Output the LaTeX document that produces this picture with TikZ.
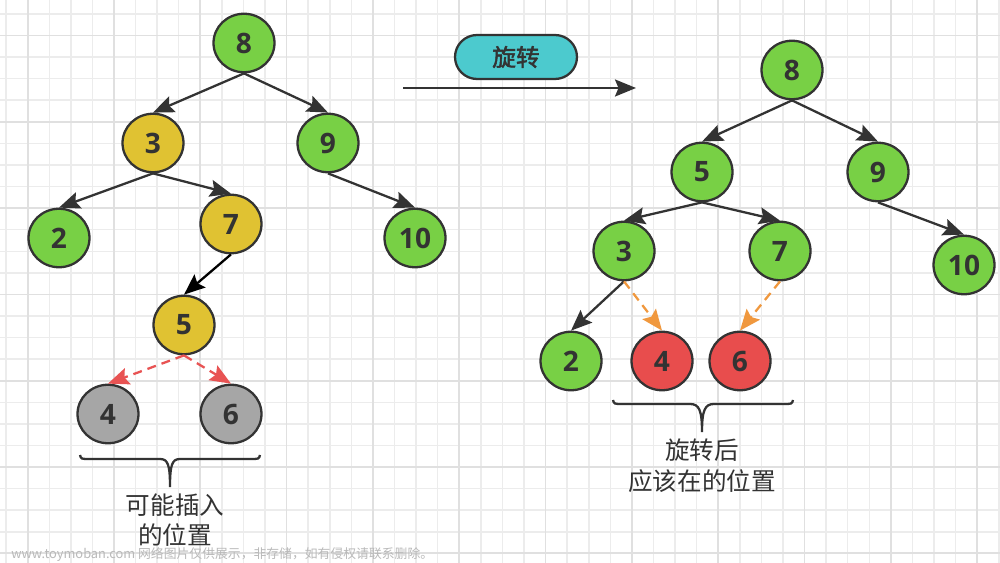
\documentclass[tikz,border=0pt]{standalone}
\usepackage{fontspec}
\setmainfont{Open Sans}
\newfontfamily\cjk[AutoFakeBold=2]{Noto Sans CJK SC}
\usetikzlibrary{arrows.meta,shapes.geometric}

\definecolor{nodegreen}{HTML}{78D045}
\definecolor{nodeyellow}{HTML}{E0C232}
\definecolor{nodegray}{HTML}{A6A6A6}
\definecolor{nodered}{HTML}{E84D4D}
\definecolor{tagcyan}{HTML}{4CCACE}
\definecolor{strokegray}{HTML}{333333}
\definecolor{dashred}{HTML}{E85353}
\definecolor{dashorange}{HTML}{F0983E}
\definecolor{gridminor}{HTML}{ECECEC}
\definecolor{gridmajor}{HTML}{E0E0E0}

\begin{document}
\begin{tikzpicture}[x=0.02cm, y=-0.02cm,
  tnode/.style={ellipse, draw=strokegray, line width=1.3pt, minimum width=1.22cm,
    minimum height=1.17cm, inner sep=0pt, text=strokegray,
    font=\fontsize{16}{18}\selectfont\bfseries},
  keep/.style={tnode, fill=nodegreen},
  moved/.style={tnode, fill=nodeyellow},
  slot/.style={tnode, fill=nodegray},
  newslot/.style={tnode, fill=nodered},
  link/.style={draw=strokegray, line width=1.3pt, -{Stealth[length=0.42cm, width=0.34cm, inset=0.07cm]}},
  guess/.style={link, draw=dashred, dash pattern=on 0.18cm off 0.12cm},
  settle/.style={link, draw=dashorange, dash pattern=on 0.18cm off 0.12cm},
  note/.style={font=\cjk\fontsize{14}{17.5}\selectfont, text=strokegray, align=center}
]
  \useasboundingbox (0,0) rectangle (1000,563);
  \fill[white] (0,0) rectangle (1000,563);

  % grid
  \foreach \gx in {6.1,27.68,...,1000}
    \draw[gridminor, line width=0.85pt] (\gx,0) -- (\gx,563);
  \foreach \gy in {13.9,35.48,...,563}
    \draw[gridminor, line width=0.85pt] (0,\gy) -- (1000,\gy);
  \foreach \gx in {27.7,114,...,1000}
    \draw[gridmajor, line width=1pt] (\gx,0) -- (\gx,563);
  \foreach \gy in {35.5,121.8,...,563}
    \draw[gridmajor, line width=1pt] (0,\gy) -- (1000,\gy);

  % left tree
  \node[keep] (l8) at (244,43) {8};
  \node[moved] (l3) at (153,143) {3};
  \node[keep] (l9) at (328,143) {9};
  \node[keep] (l2) at (59,238) {2};
  \node[moved] (l7) at (231,224) {7};
  \node[keep] (l10) at (415,238) {10};
  \node[moved] (l5) at (184,325) {5};
  \node[slot] (l4) at (108,414) {4};
  \node[slot] (l6) at (231,414) {6};

  \draw[link] (l8.south) -- (l3.north);
  \draw[link] (l8.south) -- (l9.north);
  \draw[link] (l3.south) -- (l2.north);
  \draw[link] (l3.south) -- (l7.north);
  \draw[link] (l9.south) -- (l10.north);
  \draw[link, draw=black] (l7.south) -- (l5.north);
  \draw[guess] (l5.south) -- (l4.north);
  \draw[guess] (l5.south) -- (l6.north);

  \draw[strokegray, line width=1.3pt] (80,455) .. controls (81,459) .. (90,459) -- (160,459)
    .. controls (168,459) and (170,465) .. (170,487)
    .. controls (170,465) and (172,459) .. (180,459) -- (250,459)
    .. controls (259,459) .. (260,455);
  \node[note] (lnote) at (175,520) {可能插入\\的位置};

  % rotation
  \node[rectangle, draw=strokegray, line width=1.3pt, fill=tagcyan, rounded corners=0.44cm,
    minimum width=2.44cm, minimum height=0.88cm, text=strokegray,
    font=\cjk\fontsize{13.5}{15}\selectfont\bfseries] (rot) at (516,57) {旋转};
  \coordinate (rotfrom) at (403,88);
  \coordinate (rotto) at (636,88);
  \draw[link] (rotfrom) -- (rotto);

  % right tree
  \node[keep] (r8) at (792,70) {8};
  \node[keep] (r5) at (702,172) {5};
  \node[keep] (r9) at (878,172) {9};
  \node[keep] (r3) at (624,251) {3};
  \node[keep] (r7) at (780,251) {7};
  \node[keep] (r10) at (964,265) {10};
  \node[keep] (r2) at (571,361) {2};
  \node[newslot] (r4) at (662,361) {4};
  \node[newslot] (r6) at (740,361) {6};

  \draw[link] (r8.south) -- (r5.north);
  \draw[link] (r8.south) -- (r9.north);
  \draw[link] (r5.south) -- (r3.north);
  \draw[link] (r5.south) -- (r7.north);
  \draw[link] (r9.south) -- (r10.north);
  \draw[link] (r3.south) -- (r2.north);
  \draw[settle] (r3.south) -- (r4.north);
  \draw[settle] (r7.south) -- (r6.north);

  \draw[strokegray, line width=1.3pt] (613,400) .. controls (614,404) .. (623,404) -- (690,404)
    .. controls (699,404) and (702,410) .. (702,432)
    .. controls (702,410) and (705,404) .. (714,404) -- (783,404)
    .. controls (792,404) .. (793,400);
  \node[note] (rnote) at (702,466) {旋转后\\应该在的位置};

  \node[anchor=west, text=gray!55, font=\cjk\fontsize{7.3}{8}\selectfont, inner sep=0pt] (mark)
    at (11,555) {www.toymoban.com 网络图片仅供展示，非存储，如有侵权请联系删除。};
\end{tikzpicture}
\end{document}
